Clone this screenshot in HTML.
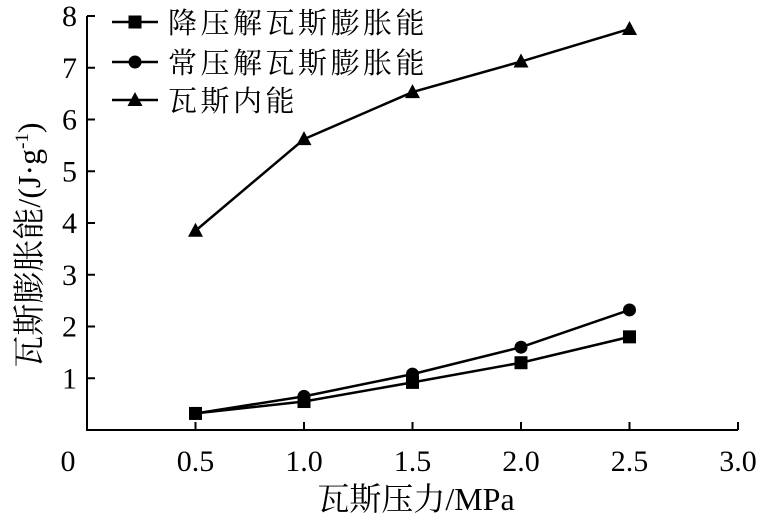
<!DOCTYPE html>
<html><head><meta charset="utf-8"><style>
body{margin:0;background:#fff;}
svg{display:block;}
text{font-family:"Liberation Serif","Noto Serif CJK SC","Noto Sans CJK SC",serif;fill:#000;}
</style></head><body>
<svg id="chart" width="760" height="522"></svg>
<script>
const categories=[0.5,1.0,1.5,2.0,2.5];
const seriesDecomp=[0.32,0.55,0.92,1.30,1.80];
const seriesNormal=[0.32,0.65,1.08,1.60,2.32];
const seriesInternal=[3.85,5.62,6.53,7.12,7.75];
const xTicks=[0.5,1.0,1.5,2.0,2.5,3.0];
const xTickLabels=["0.5","1.0","1.5","2.0","2.5","3.0"];
const yTicks=[1,2,3,4,5,6,7,8];
const seriesNames=["降压解瓦斯膨胀能","常压解瓦斯膨胀能","瓦斯内能"];

const NS="http://www.w3.org/2000/svg";
const svg=document.getElementById('chart');
const X0=87,X1=738,Y0=430,Y1=16;
function xs(v){return X0+(X1-X0)*v/3;}
function ys(v){return Y0-(Y0-Y1)*v/8;}
function mk(tag,attrs,parent){const e=document.createElementNS(NS,tag);for(const k in attrs)e.setAttribute(k,attrs[k]);(parent||svg).appendChild(e);return e;}

const axes=mk('g',{});


mk('path',{d:`M${X0} ${Y1}H${X0+8}M${X0} ${Y1}V${Y0}H${X1}`,stroke:'#000','stroke-width':2,fill:'none'},axes);
xTicks.forEach((t,i)=>{
  mk('line',{x1:xs(t),x2:xs(t),y1:Y0,y2:Y0-8,stroke:'#000','stroke-width':2},axes);
  const tx=mk('text',{x:xs(t),y:471,'text-anchor':'middle','font-size':30},axes);
  tx.textContent=xTickLabels[i];
  
  
});
const z=mk('text',{x:68,y:471,'text-anchor':'middle','font-size':30},axes);
z.textContent='0';


yTicks.forEach(t=>{
  mk('line',{x1:X0,x2:X0+8,y1:ys(t),y2:ys(t),stroke:'#000','stroke-width':2},axes);
  const tx=mk('text',{x:77,y:ys(t)+10,'text-anchor':'end','font-size':30},axes);
  tx.textContent=t;
  
  
});
const xt=mk('text',{x:416,y:510,'text-anchor':'middle','font-size':32});
xt.textContent='瓦斯压力/MPa';


const yt=mk('text',{x:0,y:0,'text-anchor':'middle','font-size':32,transform:'translate(40,245) rotate(-90)'});
yt.innerHTML='瓦斯膨胀能/(J·g<tspan dy="-12" font-size="19">-1</tspan><tspan dy="12">)</tspan>';



function marker(g,type,x,y){
  if(type==='square')mk('rect',{x:x-6.5,y:y-6.5,width:13,height:13,fill:'#000'},g);
  else if(type==='circle')mk('circle',{cx:x,cy:y,r:6.5,fill:'#000'},g);
  else mk('path',{d:`M${x} ${y-8}L${x+7.5} ${y+6}L${x-7.5} ${y+6}Z`,fill:'#000'},g);
}
const all=[[seriesDecomp,'square','series-decompression'],[seriesNormal,'circle','series-normal-pressure'],[seriesInternal,'triangle','series-internal-energy']];
all.forEach(([vals,type,name])=>{
  const g=mk('g',{});
  
  
  mk('polyline',{points:categories.map((c,i)=>xs(c)+','+ys(vals[i])).join(' '),fill:'none',stroke:'#000','stroke-width':2.5},g);
  categories.forEach((c,i)=>marker(g,type,xs(c),ys(vals[i])));
});
const leg=mk('g',{});


const lys=[22,62,100];
['square','circle','triangle'].forEach((t,i)=>{
  const e=mk('g',{},leg);
  
  
  mk('line',{x1:112,x2:158,y1:lys[i],y2:lys[i],stroke:'#000','stroke-width':2.5},e);
  marker(e,t,135,lys[i]);
  const tx=mk('text',{x:168,y:lys[i]+11,'font-size':29,'letter-spacing':3.5,'font-family':'"Liberation Sans","Noto Sans CJK SC",sans-serif'},e);
  tx.textContent=seriesNames[i];
});
</script>
</body></html>
